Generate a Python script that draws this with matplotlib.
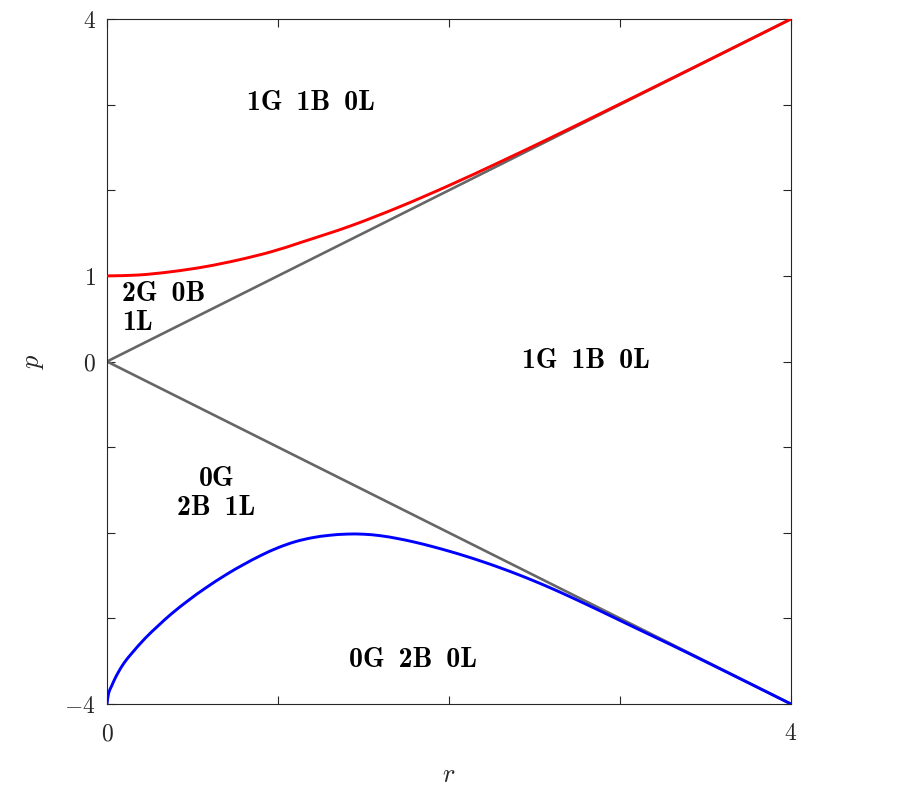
import matplotlib
matplotlib.use("Agg")
import matplotlib.pyplot as plt
import numpy as np
from matplotlib.path import Path
from matplotlib.patches import PathPatch

plt.rcParams["mathtext.fontset"] = "cm"
plt.rcParams["font.family"] = "serif"
plt.rcParams["font.serif"] = ["DejaVu Serif"]

# upper boundary (red)
red_r = [0, 0.183, 0.378, 0.573, 0.768, 0.963, 1.139, 1.421, 1.713, 2.006,
         2.298, 2.591, 2.883, 3.2, 3.5, 3.75, 4.0]
red_p = [1.0, 1.01, 1.049, 1.107, 1.186, 1.283, 1.394, 1.581, 1.808, 2.061,
         2.33, 2.609, 2.893, 3.205, 3.502, 3.751, 4.0]

# lower boundary (blue)
blue_r = [0, 0.01, 0.027, 0.045, 0.066, 0.1, 0.144, 0.222, 0.30, 0.378,
          0.476, 0.573, 0.7, 0.8, 0.9, 1.0, 1.1, 1.2, 1.3, 1.4,
          1.5, 1.6, 1.7, 1.8, 1.9, 2.0, 2.1, 2.2, 2.3, 2.4,
          2.5, 2.6, 2.7, 2.8, 2.9, 3.0, 3.1, 3.2, 3.3, 3.5, 3.75, 4.0]
blue_p = [-4.0, -3.87, -3.79, -3.71, -3.63, -3.52, -3.41, -3.235, -3.085, -2.945,
          -2.79, -2.65, -2.485, -2.37, -2.265, -2.175, -2.105, -2.058, -2.03, -2.016,
          -2.017, -2.035, -2.068, -2.11, -2.16, -2.215, -2.275, -2.34, -2.41, -2.485,
          -2.565, -2.65, -2.74, -2.833, -2.928, -3.024, -3.12, -3.215, -3.31, -3.505,
          -3.752, -4.0]

# gray diagonals p = +-r
diag_r = [0, 4]
diag_up = [0, 4]
diag_dn = [0, -4]

xticks = [0, 1, 2, 3, 4]
xticklabels = ["$0$", "", "", "", "$4$"]
yticks = [-4, -3, -2, -1, 0, 1, 2, 3, 4]
yticklabels = ["$-4$", "", "", "", "$0$", "$1$", "", "", "$4$"]

SP = "\u2002"
regions = [
    (f"1G{SP}1B{SP}0L", 1.19, 3.02, "center"),
    (f"2G{SP}0B\n1L", 0.09, 0.62, "left"),
    (f"1G{SP}1B{SP}0L", 2.80, 0.01, "center"),
    (f"0G\n2B{SP}1L", 0.64, -1.54, "center"),
    (f"0G{SP}2B{SP}0L", 1.79, -3.49, "center"),
]


def smooth_path(xs, ys):
    # chord-length Catmull-Rom through the read points, as cubic Beziers
    pts = np.column_stack([xs, ys]).astype(float)
    scaled = pts * [1.0, 0.5]          # roughly equal pixel scale
    t = np.concatenate([[0], np.cumsum(np.hypot(*np.diff(scaled, axis=0).T))])
    n = len(pts)
    tang = np.zeros_like(pts)
    for i in range(n):
        a, b = max(i - 1, 0), min(i + 1, n - 1)
        tang[i] = (pts[b] - pts[a]) / (t[b] - t[a])
    verts = [pts[0]]
    codes = [Path.MOVETO]
    for i in range(n - 1):
        h = t[i + 1] - t[i]
        verts += [pts[i] + tang[i] * h / 3, pts[i + 1] - tang[i + 1] * h / 3,
                  pts[i + 1]]
        codes += [Path.CURVE4] * 3
    return Path(verts, codes)


fig = plt.figure(figsize=(8.99, 8.02), dpi=100)
ax = fig.add_axes([107 / 899, 98 / 802, 684 / 899, 685 / 802])

ax.plot(diag_r, diag_up, color="#666666", lw=1.9, zorder=2)
ax.plot(diag_r, diag_dn, color="#666666", lw=1.9, zorder=2)
ax.add_patch(PathPatch(smooth_path(red_r, red_p), fill=False,
                       edgecolor="#ff0000", lw=2.1, zorder=3))
ax.add_patch(PathPatch(smooth_path(blue_r, blue_p), fill=False,
                       edgecolor="#0000ff", lw=2.1, zorder=3))

for txt, x, y, ha in regions:
    ax.text(x, y, txt, ha=ha, va="center", multialignment=ha,
            fontsize=20, family=["cmb10", "DejaVu Serif"],
            linespacing=1.12, color="black")

ax.set_xlim(0, 4)
ax.set_ylim(-4, 4)
ax.set_xticks(xticks)
ax.set_xticklabels(xticklabels)
ax.set_yticks(yticks)
ax.set_yticklabels(yticklabels)
ax.tick_params(direction="in", length=6, width=0.8, colors="#262626",
               labelcolor="#262626", labelsize=17, top=True, right=True)
ax.tick_params(axis="x", pad=13)
ax.tick_params(axis="y", pad=8)
for s in ax.spines.values():
    s.set_color("#262626")
    s.set_linewidth(0.8)

ax.set_xlabel("$r$", fontsize=19, color="#262626", labelpad=12)
ax.set_ylabel("$p$", fontsize=19, color="#262626", labelpad=13)

fig.savefig("out.png", dpi=100)
